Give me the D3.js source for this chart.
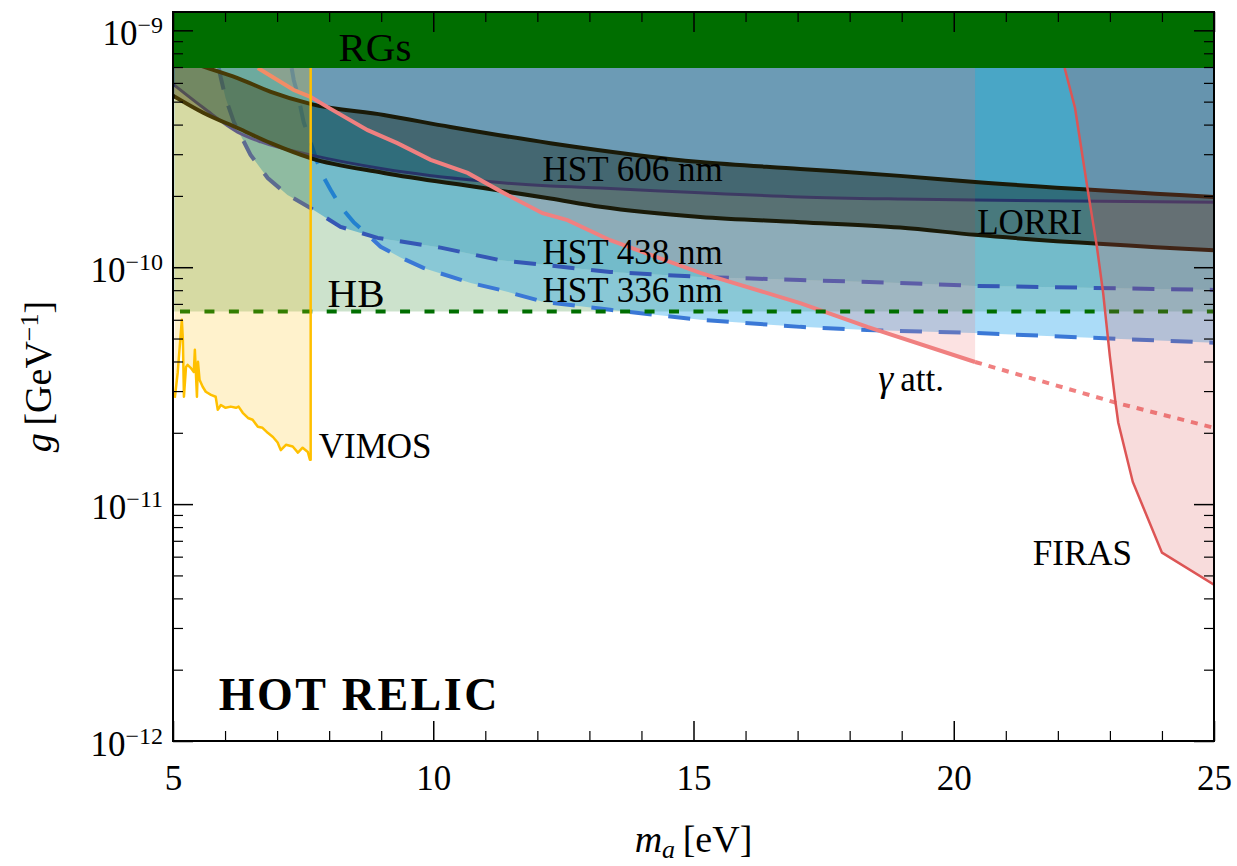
<!DOCTYPE html>
<html>
<head>
<meta charset="utf-8">
<script src="https://cdn.jsdelivr.net/npm/d3@7"></script>
<style>
  body { margin: 0; background: #fff; }
  svg { display: block; font-family: "Liberation Serif", "DejaVu Serif", serif; }
</style>
</head>
<body>
<svg id="chart" width="1237" height="866"></svg>
<script>
// axis ranges and bounds
const massRange = [5, 25];
const gRange = [1e-12, 1.195e-9];
const massTicksMajor = [5, 10, 15, 20, 25];
const gTicksMajor = [1e-12, 1e-11, 1e-10, 1e-9];
const gTickExp = ["\u221212", "\u221211", "\u221210", "\u22129"];

const rgBound = 6.93e-10;
const hbBound = 6.5e-11;

// [m_a (eV), g (GeV^-1)]
const vimos = [[5.035,2.81e-11],[5.09,3.58e-11],[5.15,5.28e-11],[5.17,6.0e-11],[5.19,4.93e-11],[5.21,2.84e-11],
  [5.25,3.79e-11],[5.28,3.87e-11],[5.34,3.76e-11],[5.40,3.61e-11],[5.42,4.48e-11],[5.46,2.84e-11],[5.48,3.99e-11],
  [5.51,3.35e-11],[5.57,3.13e-11],[5.63,2.98e-11],[5.73,2.89e-11],[5.82,2.84e-11],[5.86,2.50e-11],[5.92,2.62e-11],
  [6.01,2.55e-11],[6.11,2.58e-11],[6.21,2.55e-11],[6.26,2.58e-11],[6.34,2.43e-11],[6.44,2.31e-11],[6.53,2.27e-11],
  [6.63,2.12e-11],[6.72,2.10e-11],[6.82,2.00e-11],[6.92,1.92e-11],[7.01,1.82e-11],[7.07,1.69e-11],[7.17,1.78e-11],
  [7.30,1.75e-11],[7.40,1.65e-11],[7.49,1.73e-11],[7.59,1.66e-11],[7.63,1.54e-11],[7.645,1.54e-11]];

const hst336 = [[7.28,6.93e-10],[7.32,6.16e-10],[7.40,5.33e-10],[7.51,4.10e-10],[7.64,3.38e-10],[7.84,2.52e-10],
  [8.03,2.12e-10],[8.22,1.80e-10],[8.47,1.55e-10],[8.74,1.37e-10],[8.99,1.22e-10],[9.37,1.10e-10],[9.81,9.93e-11],
  [10.72,8.58e-11],[11.29,8.02e-11],[12.12,7.14e-11],[13.40,6.61e-11],[15.13,6.00e-11],[17.05,5.60e-11],
  [18.34,5.43e-11],[20.37,5.28e-11],[25.0,4.80e-11]];

const hst438 = [[5.88,6.93e-10],[5.92,6.29e-10],[6.01,5.18e-10],[6.17,4.10e-10],[6.49,2.98e-10],[6.82,2.38e-10],
  [7.20,2.02e-10],[7.64,1.78e-10],[8.22,1.48e-10],[8.93,1.33e-10],[10.14,1.21e-10],[11.29,1.07e-10],
  [13.40,9.55e-11],[15.13,9.10e-11],[17.05,8.83e-11],[18.97,8.58e-11],[20.41,8.34e-11],[25.0,8.02e-11]];

const hst606 = [[5.0,5.93e-10],[5.59,4.70e-10],[6.24,3.72e-10],[6.69,3.38e-10],[7.64,2.98e-10],[9.05,2.60e-10],
  [10.96,2.31e-10],[12.25,2.20e-10],[13.21,2.16e-10],[15.13,2.06e-10],[17.05,1.98e-10],[18.97,1.94e-10],
  [20.41,1.92e-10],[25.0,1.88e-10]];

const lorriUpper = [[5.0,7.7e-10],[5.67,6.93e-10],[6.24,6.29e-10],[6.88,5.50e-10],[7.64,4.89e-10],[9.05,4.39e-10],
  [10.33,3.91e-10],[12.25,3.34e-10],[15.13,2.78e-10],[17.05,2.60e-10],[18.97,2.43e-10],[20.41,2.29e-10],[25.0,1.98e-10]];
const lorriLower = [[5.0,5.30e-10],[5.59,4.48e-10],[6.24,3.87e-10],[6.88,3.34e-10],[7.64,2.89e-10],[9.05,2.50e-10],
  [10.96,2.16e-10],[12.25,1.95e-10],[13.21,1.80e-10],[15.13,1.63e-10],[17.05,1.55e-10],[18.97,1.47e-10],
  [20.41,1.37e-10],[25.0,1.18e-10]];

const gammaAtt = [[6.63,6.93e-10],[7.32,5.60e-10],[7.64,5.24e-10],[7.97,4.74e-10],[8.74,3.79e-10],[9.31,3.34e-10],
  [9.95,2.84e-10],[10.66,2.50e-10],[11.35,2.06e-10],[12.10,1.69e-10],[12.58,1.58e-10],[13.40,1.30e-10],
  [15.13,9.46e-11],[17.05,7.06e-11],[18.34,5.60e-11],[20.41,3.98e-11]];
const gammaAttExtra = [[20.41,3.98e-11],[23.14,2.67e-11],[25.0,2.10e-11]];

const firas = [[22.13,6.93e-10],[22.33,4.70e-10],[22.58,2.08e-10],[22.75,1.22e-10],[22.87,7.80e-11],[23.00,4.19e-11],
  [23.10,2.76e-11],[23.16,2.21e-11],[23.44,1.24e-11],[24.00,6.24e-12],[25.0,4.57e-12]];

const serif = "'Liberation Serif', 'DejaVu Serif', serif";
const svg = d3.select("#chart");
const x = d3.scaleLinear().domain(massRange).range([173, 1214]);
const y = d3.scaleLog().domain(gRange).range([741, 12]);
const gTop = gRange[1], gBot = gRange[0];

const above = d3.area().x(d => x(d[0])).y0(y(gTop)).y1(d => y(d[1]));
const line = d3.line().x(d => x(d[0])).y(d => y(d[1]));
const smooth = d3.line().x(d => x(d[0])).y(d => y(d[1])).curve(d3.curveMonotoneX);

const defs = svg.append("defs");
defs.append("clipPath").attr("id", "plotArea").append("rect")
  .attr("x", x(5)).attr("y", y(gTop)).attr("width", x(25) - x(5)).attr("height", y(gBot) - y(gTop));
// 336 nm shading only where it is the stronger bound (below the 438 curve)
defs.append("clipPath").attr("id", "below438").append("path")
  .attr("d", line([[5, gTop], [hst438[0][0], gTop], ...hst438, [25, gBot], [5, gBot]]) + "Z");

const plot = svg.append("g").attr("clip-path", "url(#plotArea)");

// HB
plot.append("path").attr("d", above([[5, hbBound], [25, hbBound]]))
  .attr("fill", "#006e00").attr("fill-opacity", 0.2);

// HST
plot.append("path").attr("d", above(hst336)).attr("clip-path", "url(#below438)")
  .attr("fill", "#0096eb").attr("fill-opacity", 0.33);
plot.append("path").attr("d", line(hst336)).attr("fill", "none")
  .attr("stroke", "#3a78d6").attr("stroke-width", 4).attr("stroke-dasharray", "22,16.7");
plot.append("path").attr("d", above(hst438))
  .attr("fill", "#078cc8").attr("fill-opacity", 0.45);
plot.append("path").attr("d", line(hst438)).attr("fill", "none")
  .attr("stroke", "#3557b5").attr("stroke-width", 4).attr("stroke-dasharray", "22,16.7");
plot.append("path").attr("d", above(hst606))
  .attr("fill", "#0a88c0").attr("fill-opacity", 0.4);
plot.append("path").attr("d", smooth(hst606)).attr("fill", "none")
  .attr("stroke", "#3a44a8").attr("stroke-width", 3);

// photon attenuation shading
plot.append("path").attr("d", above(gammaAtt))
  .attr("fill", "#f07878").attr("fill-opacity", 0.21);

// LORRI band
const band = [...lorriUpper, ...lorriLower.slice().reverse()];
plot.append("path").attr("d", line(band) + "Z")
  .attr("fill", "#0f1e14").attr("fill-opacity", 0.42);
[lorriUpper, lorriLower].forEach(c => {
  plot.append("path").attr("d", smooth(c)).attr("fill", "none")
    .attr("stroke", "#1a1a08").attr("stroke-width", 4);
});

// photon attenuation line
plot.append("path").attr("d", line(gammaAtt)).attr("fill", "none")
  .attr("stroke", "lightcoral").attr("stroke-width", 4);
plot.append("path").attr("d", line(gammaAttExtra)).attr("fill", "none")
  .attr("stroke", "lightcoral").attr("stroke-width", 4).attr("stroke-dasharray", "7,7");

// HB line
plot.append("path").attr("d", line([[5, hbBound], [25, hbBound]])).attr("fill", "none")
  .attr("stroke", "#006e00").attr("stroke-width", 4)
  .attr("stroke-dasharray", "10,14.45").attr("stroke-dashoffset", 17.45);

// VIMOS
plot.append("path").attr("d", above(vimos))
  .attr("fill", "#ffc000").attr("fill-opacity", 0.2);
plot.append("path").attr("d", line([...vimos, [vimos[vimos.length - 1][0], gTop]])).attr("fill", "none")
  .attr("stroke", "#ffc000").attr("stroke-width", 2.5).attr("stroke-linejoin", "round");

// FIRAS
plot.append("path").attr("d", line([...firas, [25, gTop], [firas[0][0], gTop]]) + "Z")
  .attr("fill", "#dc5050").attr("fill-opacity", 0.2);
plot.append("path").attr("d", line(firas)).attr("fill", "none")
  .attr("stroke", "#dd5555").attr("stroke-width", 2.5);

// red giants
plot.append("path").attr("d", above([[5, rgBound], [25, rgBound]])).attr("fill", "#006e00");

// labels
const labels = [
  {t: "RGs", m: 8.18, g: 7.42e-10, s: 41},
  {t: "HB", m: 7.97, g: 6.79e-11, s: 41},
  {t: "HST 606 nm", m: 12.10, g: 2.31e-10, s: 35},
  {t: "HST 438 nm", m: 12.10, g: 1.03e-10, s: 35},
  {t: "HST 336 nm", m: 12.10, g: 7.13e-11, s: 35},
  {t: "LORRI", m: 20.45, g: 1.38e-10, s: 35},
  {t: "VIMOS", m: 7.80, g: 1.57e-11, s: 35},
  {t: "FIRAS", m: 21.52, g: 5.53e-12, s: 35}
];
svg.append("g").selectAll("text").data(labels).join("text")
  .attr("x", d => x(d.m)).attr("y", d => y(d.g)).attr("font-family", serif)
  .attr("font-size", d => d.s).attr("fill", "#000").text(d => d.t);

const gam = svg.append("text").attr("x", x(18.55)).attr("y", y(3.0e-11))
  .attr("font-family", serif).attr("font-size", 35);
gam.append("tspan").attr("font-style", "italic").attr("font-size", 38).text("\u03b3");
gam.append("tspan").text("\u2009att.");

svg.append("text").attr("x", x(5.88)).attr("y", y(1.35e-12)).attr("font-family", serif)
  .attr("font-size", 46).attr("font-weight", "bold").attr("letter-spacing", 2.5).text("HOT RELIC");

// axes
const axes = svg.append("g");
const minorX = d3.range(6, 25).filter(v => v % 5 !== 0);
const minorY = [];
[-12, -11, -10, -9].forEach(e => d3.range(2, 10).forEach(k => {
  const v = k * Math.pow(10, e);
  if (v < gTop) minorY.push(v);
}));

function styleAxis(g) {
  g.select(".domain").remove();
  g.selectAll("line").attr("stroke", "#000");
}

axes.append("g").attr("transform", `translate(0,${y(gBot)})`)
  .call(d3.axisBottom(x).tickValues(massTicksMajor).tickSize(-20).tickPadding(24).tickFormat(d3.format("d")))
  .call(styleAxis)
  .call(g => g.selectAll("line").attr("stroke-width", 1.5))
  .call(g => g.selectAll("text").attr("font-size", 35).attr("font-family", serif).attr("fill", "#000"));
axes.append("g").attr("transform", `translate(0,${y(gBot)})`)
  .call(d3.axisBottom(x).tickValues(minorX).tickSize(-10).tickFormat(""))
  .call(styleAxis).call(g => g.selectAll("line").attr("stroke-width", 1.2));
axes.append("g").attr("transform", `translate(0,${y(gTop)})`)
  .call(d3.axisTop(x).tickValues(massTicksMajor).tickSize(-20).tickFormat(""))
  .call(styleAxis).call(g => g.selectAll("line").attr("stroke-width", 1.5));
axes.append("g").attr("transform", `translate(0,${y(gTop)})`)
  .call(d3.axisTop(x).tickValues(minorX).tickSize(-10).tickFormat(""))
  .call(styleAxis).call(g => g.selectAll("line").attr("stroke-width", 1.2));
axes.append("g").attr("transform", `translate(${x(5)},0)`)
  .call(d3.axisLeft(y).tickValues(gTicksMajor).tickSize(-20).tickFormat(""))
  .call(styleAxis).call(g => g.selectAll("line").attr("stroke-width", 1.5));
axes.append("g").attr("transform", `translate(${x(5)},0)`)
  .call(d3.axisLeft(y).tickValues(minorY).tickSize(-10).tickFormat(""))
  .call(styleAxis).call(g => g.selectAll("line").attr("stroke-width", 1.2));
axes.append("g").attr("transform", `translate(${x(25)},0)`)
  .call(d3.axisRight(y).tickValues(gTicksMajor).tickSize(-20).tickFormat(""))
  .call(styleAxis).call(g => g.selectAll("line").attr("stroke-width", 1.5));
axes.append("g").attr("transform", `translate(${x(25)},0)`)
  .call(d3.axisRight(y).tickValues(minorY).tickSize(-10).tickFormat(""))
  .call(styleAxis).call(g => g.selectAll("line").attr("stroke-width", 1.2));

// y tick labels with exponents
axes.append("g").selectAll("text").data(gTicksMajor).join("text")
  .attr("x", 163).attr("y", d => y(d) + 14.5).attr("text-anchor", "end")
  .attr("font-family", serif).attr("font-size", 35).attr("fill", "#000")
  .each(function (d, i) {
    const t = d3.select(this);
    t.append("tspan").text("10");
    t.append("tspan").attr("font-size", 24).attr("dy", -12).text(gTickExp[i]);
  });

// frame
axes.append("rect").attr("x", x(5)).attr("y", y(gTop))
  .attr("width", x(25) - x(5)).attr("height", y(gBot) - y(gTop))
  .attr("fill", "none").attr("stroke", "#000").attr("stroke-width", 2);

// axis titles
const xt = svg.append("text").attr("x", (x(5) + x(25)) / 2).attr("y", 852)
  .attr("text-anchor", "middle").attr("font-family", serif).attr("font-size", 38);
xt.append("tspan").attr("font-style", "italic").text("m");
xt.append("tspan").attr("font-style", "italic").attr("font-size", 26).attr("dy", 6).text("a");
xt.append("tspan").attr("dy", -6).text("\u2009[eV]");

const yt = svg.append("text").attr("transform", `translate(51,${(y(gTop) + y(gBot)) / 2}) rotate(-90)`)
  .attr("text-anchor", "middle").attr("font-family", serif).attr("font-size", 38);
yt.append("tspan").attr("font-style", "italic").text("g");
yt.append("tspan").text("\u2009[GeV");
yt.append("tspan").attr("font-size", 26).attr("dy", -13).text("\u22121");
yt.append("tspan").attr("dy", 13).text("]");
</script>
</body>
</html>
